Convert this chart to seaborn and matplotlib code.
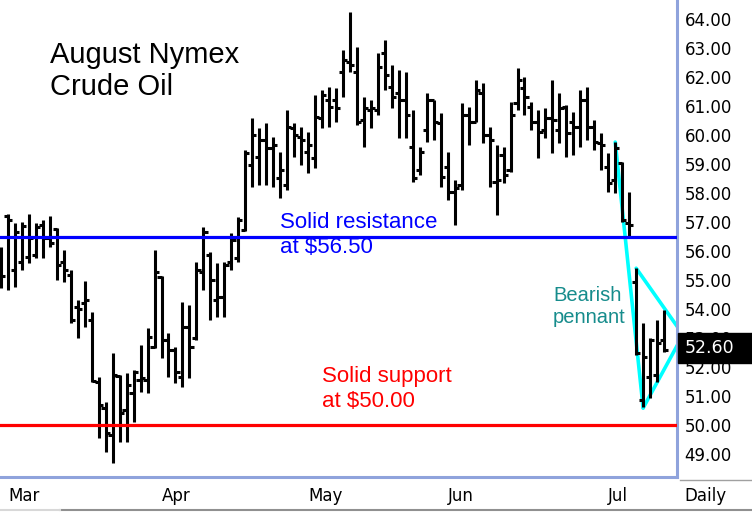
import numpy as np
import pandas as pd
import matplotlib
matplotlib.use("Agg")
import matplotlib.pyplot as plt
from matplotlib.patches import Rectangle
from matplotlib.lines import Line2D
from matplotlib.ticker import FormatStrFormatter
import seaborn as sns

# ---- data (daily OHLC) ----
high = [56.14, 57.28, 56.97, 57.00, 57.28, 56.97, 57.07, 57.21, 56.79, 56.03,
        55.34, 54.31, 54.97, 53.90, 51.66, 50.79, 52.48, 51.72, 51.79, 51.90,
        52.76, 53.34, 56.03, 55.14, 53.17, 52.69, 54.24, 54.14, 55.62, 56.83,
        55.97, 55.59, 55.62, 56.62, 57.17, 59.48, 60.59, 60.24, 60.41, 59.93,
        59.41, 60.86, 60.41, 60.28, 60.10, 61.38, 61.55, 61.66, 61.62, 62.93,
        64.24, 63.03, 61.31, 61.21, 62.83, 63.28, 62.41, 62.24, 62.17, 60.86,
        59.59, 61.45, 61.21, 60.76, 59.41, 58.45, 61.10, 60.97, 61.90, 61.79,
        60.28, 59.66, 59.59, 61.14, 62.31, 62.00, 61.14, 60.86, 60.93, 61.90,
        61.45, 61.03, 60.79, 61.55, 61.66, 60.52, 60.07, 59.38, 59.76, 59.07,
        58.03, 55.41, 53.52, 53.00, 53.62, 53.97]
low = [54.72, 54.66, 54.76, 55.34, 55.59, 55.76, 55.76, 56.14, 55.00, 54.93,
       53.52, 53.00, 53.38, 51.48, 49.55, 49.07, 48.69, 49.41, 49.41, 50.10,
       51.14, 51.10, 52.66, 52.31, 51.66, 51.45, 51.31, 51.62, 52.93, 54.66,
       53.62, 53.72, 53.72, 55.34, 55.62, 56.69, 58.21, 58.28, 58.28, 58.21,
       57.83, 58.10, 59.24, 58.97, 58.69, 58.86, 60.24, 60.28, 60.45, 61.31,
       62.17, 60.34, 59.59, 60.24, 60.69, 61.55, 60.93, 59.90, 59.90, 58.38,
       58.62, 59.76, 59.83, 58.21, 57.76, 56.90, 58.10, 59.66, 60.45, 59.72,
       58.21, 57.24, 58.34, 58.72, 60.86, 60.69, 60.17, 59.21, 59.90, 59.38,
       59.72, 59.24, 59.31, 59.59, 59.83, 59.48, 58.79, 58.03, 58.00, 57.00,
       56.48, 52.41, 50.62, 50.93, 51.48, 52.52]
open_ = [55.52, 57.21, 55.34, 55.62, 55.79, 55.86, 56.90, 56.45, 56.76, 55.62,
         55.17, 54.07, 54.21, 53.62, 51.48, 50.59, 49.66, 51.69, 50.52, 51.10,
         51.55, 51.55, 52.69, 55.10, 52.93, 52.59, 51.66, 53.38, 53.00, 55.28,
         55.86, 54.31, 54.41, 55.62, 55.76, 56.72, 58.97, 59.24, 59.83, 59.55,
         58.52, 58.28, 60.24, 59.93, 59.41, 59.21, 60.59, 61.21, 61.21, 62.17,
         62.52, 62.17, 60.52, 60.86, 60.86, 62.83, 61.66, 61.45, 61.21, 59.59,
         58.79, 60.17, 61.21, 60.41, 58.90, 58.03, 58.28, 60.69, 60.45, 61.45,
         60.00, 58.38, 59.31, 58.79, 61.10, 61.62, 60.97, 60.45, 60.17, 60.59,
         60.17, 60.97, 60.45, 60.28, 61.21, 60.28, 59.72, 58.90, 58.45, 59.03,
         56.97, 54.93, 50.86, 51.66, 51.72, 52.93]
close = [55.14, 57.07, 56.66, 56.86, 56.45, 56.83, 56.45, 56.28, 55.52, 55.34,
         53.62, 54.00, 54.31, 51.52, 50.69, 49.72, 51.72, 50.41, 51.38, 51.83,
         51.62, 53.03, 55.28, 52.93, 52.59, 51.83, 53.38, 52.69, 55.34, 56.66,
         55.00, 54.41, 55.52, 56.38, 57.07, 59.38, 60.00, 59.83, 59.55, 59.66,
         58.79, 60.28, 60.00, 59.83, 59.66, 60.62, 61.38, 60.97, 60.93, 62.59,
         62.41, 60.45, 60.93, 60.93, 62.34, 62.07, 61.31, 61.21, 60.69, 58.52,
         59.41, 61.21, 60.45, 58.55, 58.03, 58.17, 60.69, 60.45, 61.55, 60.00,
         59.83, 58.45, 58.62, 60.69, 61.90, 61.31, 60.45, 60.10, 60.59, 60.52,
         60.93, 60.07, 60.28, 61.21, 60.28, 59.76, 59.66, 58.34, 59.55, 57.07,
         56.90, 52.48, 52.34, 52.93, 52.83, 52.60]

month_labels = ["Mar", "Apr", "May", "Jun", "Jul"]
month_start_bar = [1, 23, 44, 64, 87]
y_ticks = list(range(49, 65))

resistance = 56.50
support = 50.00
last_price = 52.60

# bearish pennant trendlines (bar index, price)
pole_x, pole_y = [88, 92], [59.76, 50.59]
upper_x, upper_y = [91, 97], [55.41, 53.36]
lower_x, lower_y = [92, 97], [50.59, 52.80]

# ---- build long-form segments for OHLC bars ----
TICK = 0.6
rows = []
for i, (h, l, o, c) in enumerate(zip(high, low, open_, close)):
    rows += [(f"hl{i}", i, h), (f"hl{i}", i, l)]
    rows += [(f"o{i}", i - TICK, o), (f"o{i}", i, o)]
    rows += [(f"c{i}", i, c), (f"c{i}", i + TICK, c)]
bars = pd.DataFrame(rows, columns=["seg", "x", "price"])

pen_rows = []
for name, xs, ys in [("pole", pole_x, pole_y), ("up", upper_x, upper_y), ("lo", lower_x, lower_y)]:
    for xv, yv in zip(xs, ys):
        pen_rows.append((name, xv, yv))
pennant = pd.DataFrame(pen_rows, columns=["seg", "x", "price"])

# ---- figure ----
W, H = 752, 515
fig = plt.figure(figsize=(W / 100, H / 100), dpi=100)
fig.patch.set_facecolor("white")
ax = fig.add_axes([0, 1 - 477 / H, 677 / W, 477 / H])
ax.set_facecolor("white")

sns.lineplot(data=pennant, x="x", y="price", units="seg", estimator=None, sort=False,
             color="#00FFFF", linewidth=2.6, solid_capstyle="round", zorder=1, ax=ax)
sns.lineplot(data=bars, x="x", y="price", units="seg", estimator=None, sort=False,
             color="black", linewidth=2.2, solid_capstyle="butt", zorder=2, ax=ax)

ax.axhline(resistance, color="#0000FF", lw=2.3, zorder=3)
ax.axhline(support, color="#FF0000", lw=2.3, zorder=3)

ax.set_xlim(-0.14, 96.85)
ax.set_ylim(48.21, 64.66)
ax.set_xlabel("")
ax.set_ylabel("")

for s in ["top", "left"]:
    ax.spines[s].set_visible(False)
for s in ["right", "bottom"]:
    ax.spines[s].set_color("#8FA3DC")
    ax.spines[s].set_linewidth(2.2)

ax.yaxis.tick_right()
ax.set_yticks(y_ticks)
ax.yaxis.set_major_formatter(FormatStrFormatter("%.2f"))
ax.tick_params(axis="y", length=0, pad=5.5, labelsize=12, labelcolor="black")
ax.set_xticks(month_start_bar)
ax.set_xticklabels(month_labels, ha="left")
ax.tick_params(axis="x", length=0, pad=7, labelsize=12, labelcolor="black")
for lab in ax.get_xticklabels() + ax.get_yticklabels():
    lab.set_fontfamily("DejaVu Sans")

def fx(px):
    return px / W

def fy(py):
    return 1 - py / H

ann_font = "Liberation Sans"
fig.text(fx(50), fy(41), "August Nymex\nCrude Oil", fontsize=21, family=ann_font,
         color="black", va="top", ha="left", linespacing=1.2)
fig.text(fx(280), fy(212), "Solid resistance\nat $56.50", fontsize=16, family=ann_font,
         color="#0000FF", va="top", ha="left", linespacing=1.25)
fig.text(fx(322), fy(366), "Solid support\nat $50.00", fontsize=16, family=ann_font,
         color="#FF0000", va="top", ha="left", linespacing=1.25)
fig.text(fx(553), fy(286), "Bearish\npennant", fontsize=14.5, family=ann_font,
         color="#168C8C", va="top", ha="left", linespacing=1.2)

# last price box
fig.add_artist(Rectangle((fx(678), fy(363)), fx(74), 30 / H, transform=fig.transFigure,
                         facecolor="black", edgecolor="black", zorder=10))
fig.text(fx(685), fy(348), f"{last_price:.2f}", fontsize=12.5, family="DejaVu Sans",
         color="white", va="center", ha="left", zorder=11)

fig.text(fx(684), fy(496), "Daily", fontsize=12, family="DejaVu Sans",
         color="black", va="center", ha="left")

# panel separator lines
fig.add_artist(Line2D([fx(680), 1], [fy(480), fy(480)], color="#A0A0A0", lw=1.0,
                      transform=fig.transFigure))
fig.add_artist(Line2D([fx(60), 1], [fy(510), fy(510)], color="#909090", lw=1.5,
                      transform=fig.transFigure))
fig.add_artist(Line2D([0, fx(60)], [fy(510), fy(510)], color="#D8D8D8", lw=1.5,
                      transform=fig.transFigure))

fig.savefig("out.png", dpi=100, facecolor="white")
